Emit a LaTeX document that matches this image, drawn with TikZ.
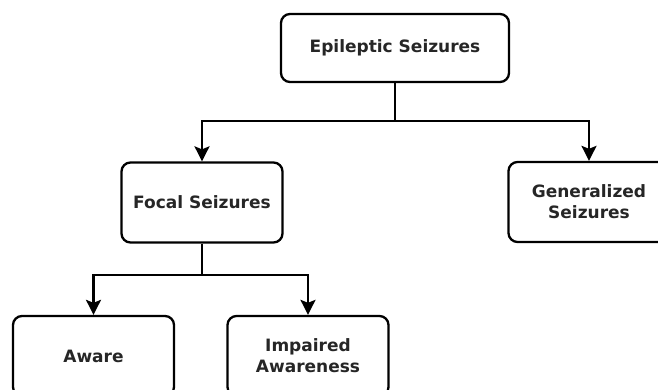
\documentclass[tikz,border=0pt]{standalone}
\usepackage{fontspec}
\setmainfont{DejaVu Sans}
\usetikzlibrary{arrows.meta}
\begin{document}
\begin{tikzpicture}[x=1pt,y=-1pt,
  box/.style={draw, line width=2.3pt, rounded corners=9pt, minimum width=161pt, minimum height=80pt,
    align=center, font=\fontsize{17}{21}\selectfont\bfseries, text=black!85, fill=white, inner sep=0pt},
  conn/.style={line width=2.3pt},
  arr/.style={conn, -{Stealth[length=15pt,width=15pt,inset=3pt]}}]
\useasboundingbox (0,0) rectangle (658,390);
\clip (0,0) rectangle (658,390);
\node[box, minimum width=228pt, minimum height=68pt] (ep) at (395,48) {Epileptic Seizures};
\node[box] (fo) at (202,202.5) {Focal Seizures};
\node[box] (ge) at (589,202) {Generalized\\Seizures};
\node[box] (aw) at (93.5,356) {Aware};
\node[box] (im) at (308,356) {Impaired\\Awareness};
\coordinate (j1) at (395,121);
\coordinate (j2) at (202,275);
\draw[conn] (ep.south) -- (j1);
\draw[arr] (j1) -| (fo.north);
\draw[arr] (j1) -| (ge.north);
\draw[conn] (fo.south) -- (j2);
\draw[arr] (j2) -| (aw.north);
\draw[arr] (j2) -| (im.north);
\end{tikzpicture}
\end{document}
